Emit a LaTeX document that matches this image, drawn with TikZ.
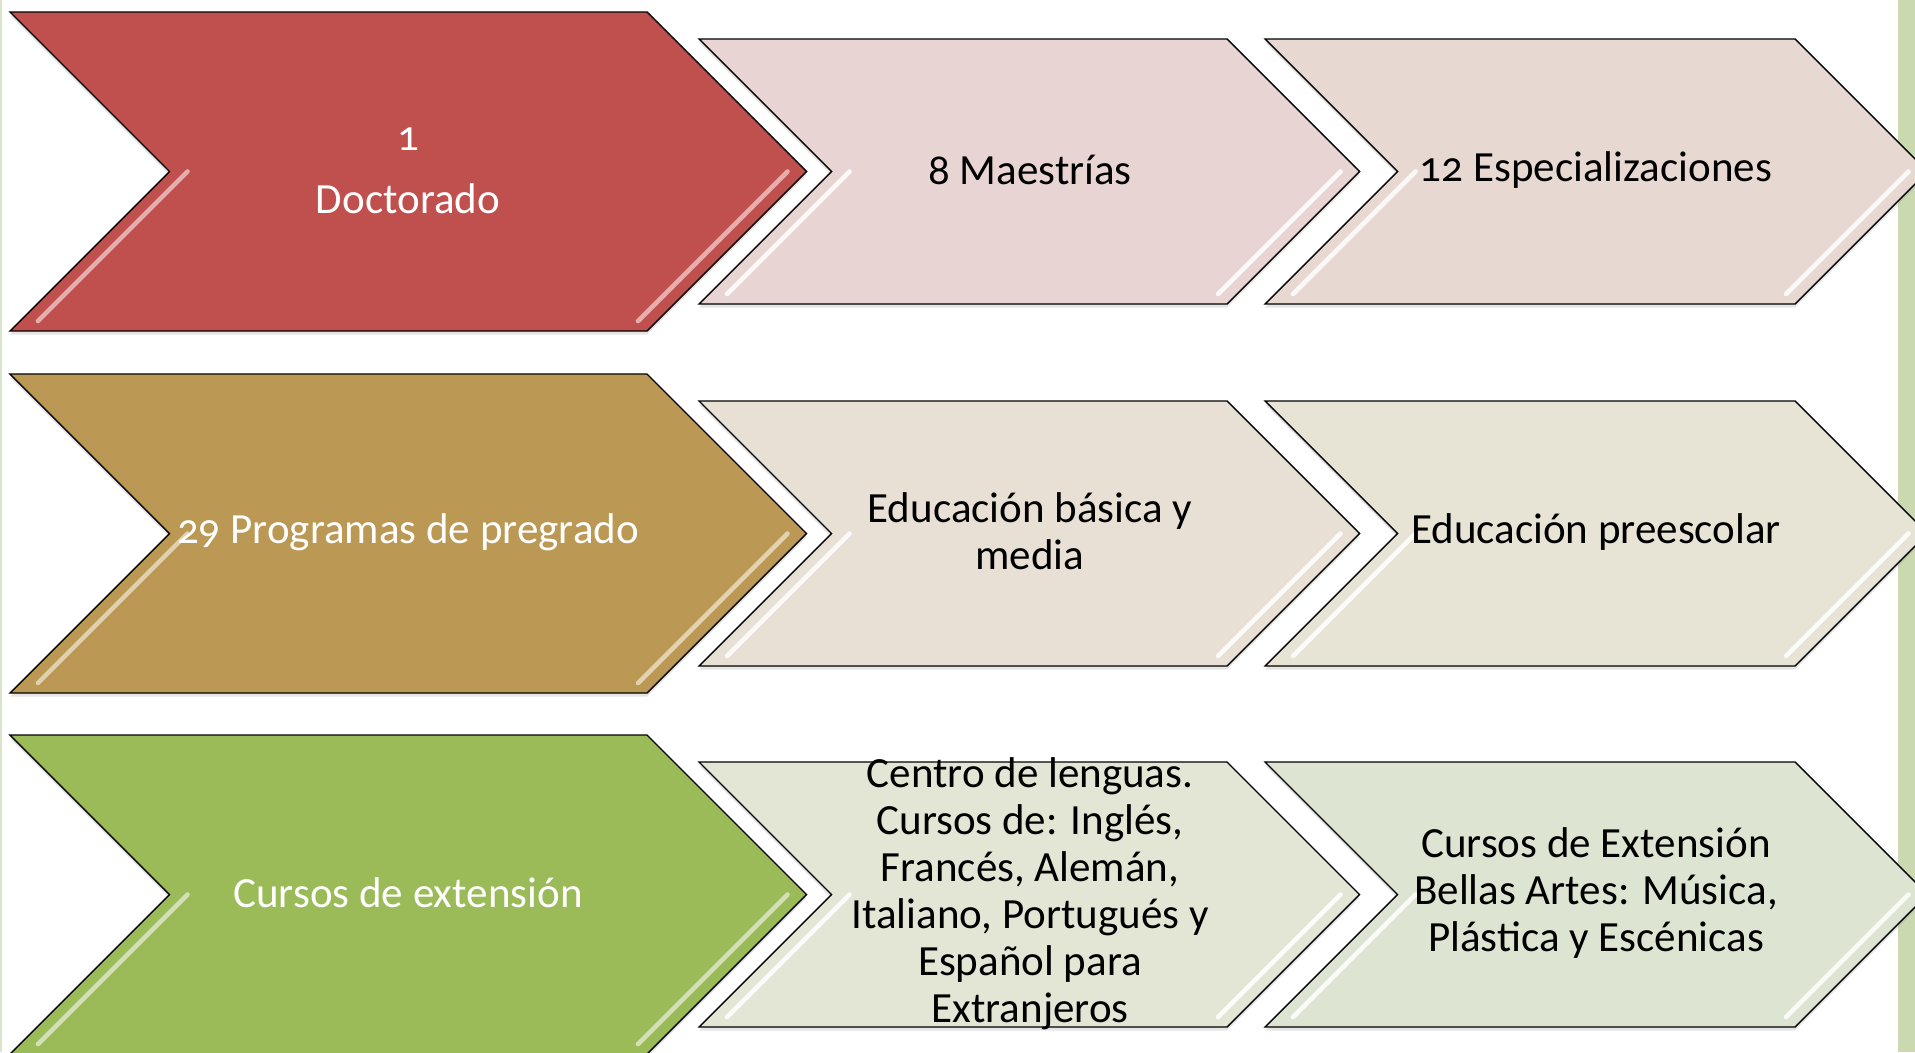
\documentclass[tikz,border=0pt]{standalone}
\usepackage{fontspec}
\setmainfont{Carlito}[Numbers=OldStyle]
\usetikzlibrary{shadows}

\definecolor{rojo}{RGB}{192,80,77}
\definecolor{rosaA}{RGB}{233,212,212}
\definecolor{rosaB}{RGB}{231,217,210}
\definecolor{ocre}{RGB}{187,152,83}
\definecolor{arenaA}{RGB}{232,223,213}
\definecolor{arenaB}{RGB}{231,227,213}
\definecolor{verde}{RGB}{155,187,89}
\definecolor{verdeA}{RGB}{227,230,212}
\definecolor{verdeB}{RGB}{221,229,210}
\definecolor{barra}{RGB}{202,217,176}

\tikzset{
  chev/.style={draw=black, line width=0.8pt},
  brillo/.style={line width=2.6pt, line cap=round},
  txt/.style={align=center, inner sep=0pt, font=\fontsize{24.5}{26.8}\selectfont},
}

% chevron: x, y (top left), width, height, fill, highlight
\newcommand{\chev}[6]{%
  \draw[chev, fill=#5, drop shadow={shadow xshift=0pt, shadow yshift=-2pt, opacity=0.2}]
    (#1,#2) -- ({#1+#3},#2) -- ({#1+#3+#4/2},{#2+#4/2})
    -- ({#1+#3},{#2+#4}) -- (#1,{#2+#4}) -- ({#1+#4/2},{#2+#4/2}) -- cycle;
  \draw[brillo, #6] ({#1+#4/2+18},{#2+#4/2}) -- ({#1+28},{#2+#4-10});
  \draw[brillo, #6] ({#1+#3+#4/2-19},{#2+#4/2}) -- ({#1+#3-9},{#2+#4-10});
}

\begin{document}
\begin{tikzpicture}[x=0.02cm, y=-0.02cm]
\useasboundingbox (0,0) rectangle (1915,1052);
\fill[white] (0,0) rectangle (1915,1052);
\fill[barra] (1898,0) rectangle (1915,1052);
\fill[barra!70] (0,0) rectangle (2,1052);

% fila 1
\chev{10}{12}{637}{319}{rojo}{rojo!45!white}
\chev{699}{39}{528}{265}{rosaA}{white!85!rosaA}
\chev{1265}{39}{530}{265}{rosaB}{white!85!rosaB}
\node[txt, white] (doc) at (408,171) {1\\[9pt]Doctorado};
\node[txt] (mae) at (1030,170) {8 Maestrías};
\node[txt] (esp) at (1596,170) {12 Especializaciones};

% fila 2
\chev{10}{374}{637}{319}{ocre}{ocre!45!white}
\chev{699}{401}{528}{265}{arenaA}{white!85!arenaA}
\chev{1265}{401}{530}{265}{arenaB}{white!85!arenaB}
\node[txt, white] (pre) at (408,532) {29 Programas de pregrado};
\node[txt] (edu) at (1030,531) {Educación básica y\\media};
\node[txt] (presc) at (1596,532) {Educación preescolar};

% fila 3
\chev{10}{735}{637}{319}{verde}{verde!45!white}
\chev{699}{762}{528}{265}{verdeA}{white!85!verdeA}
\chev{1265}{762}{530}{265}{verdeB}{white!85!verdeB}
\node[txt, white] (ext) at (408,893) {Cursos de extensión};
\node[txt] (len) at (1030,894) {Centro de lenguas.\\Cursos de: Inglés,\\Francés, Alemán,\\Italiano, Portugués y\\Español para\\Extranjeros};
\node[txt] (bel) at (1596,893) {Cursos de Extensión\\Bellas Artes: Música,\\Plástica y Escénicas};
\end{tikzpicture}
\end{document}
